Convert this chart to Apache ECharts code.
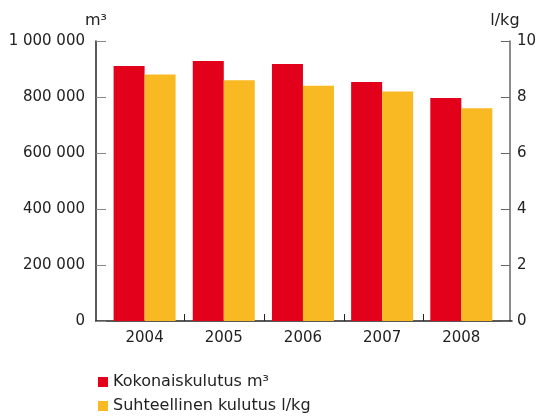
<!DOCTYPE html>
<html>
<head>
<meta charset="utf-8">
<script src="https://cdn.jsdelivr.net/npm/echarts@6/dist/echarts.min.js"></script>
<style>
html,body{margin:0;padding:0;background:#fff;}
#chart{width:539px;height:420px;}
</style>
</head>
<body>
<div id="chart"></div>
<script>
// ---- data ----
const years = ['2004', '2005', '2006', '2007', '2008'];
const totalM3 = [911000, 929000, 918000, 854000, 796000];
const relativeLkg = [8.8, 8.6, 8.4, 8.2, 7.6];
const seriesNames = ['Kokonaiskulutus m³', 'Suhteellinen kulutus l/kg'];
const leftTicks = [0, 200000, 400000, 600000, 800000, 1000000];
const rightTicks = [0, 2, 4, 6, 8, 10];
const boundaryTicks = [1, 2, 3, 4];

// ---- layout ----
const W = 539;
const plotL = 105, plotR = 36, axisPad = 9;
const bandW = (W - plotL - plotR) / years.length;
const padUnits = axisPad / bandW;
const FONT = 'DejaVu Sans';
const fmt = v => String(v).replace(/\B(?=(\d{3})+(?!\d))/g, ' ');

const chart = echarts.init(document.getElementById('chart'), null, {renderer: 'canvas'});
chart.setOption({
  animation: false,
  textStyle: {fontFamily: FONT},
  grid: [
    {left: plotL, right: plotR, top: 41, bottom: 99, containLabel: false},
    {left: plotL - axisPad, right: plotR - axisPad, top: 41, bottom: 99, containLabel: false}
  ],
  legend: {
    orient: 'vertical',
    left: 98, top: 374, padding: 0, height: 46,
    icon: 'rect', itemWidth: 10, itemHeight: 10, itemGap: 8,
    textStyle: {fontFamily: FONT, fontSize: 16, lineHeight: 16, color: '#222'},
    data: seriesNames
  },
  xAxis: [
    {
      type: 'category', gridIndex: 0, data: years,
      axisLine: {show: false}, axisTick: {show: false},
      axisLabel: {fontFamily: FONT, fontSize: 15, color: '#222', margin: 10}
    },
    {
      type: 'value', gridIndex: 1,
      min: -padUnits, max: years.length + padUnits,
      axisLine: {show: true, lineStyle: {color: '#222', width: 1.5}},
      axisTick: {show: true, inside: true, length: 7, customValues: boundaryTicks, lineStyle: {color: '#222'}},
      axisLabel: {show: false},
      splitLine: {show: false}
    }
  ],
  yAxis: [
    {
      type: 'value', gridIndex: 0, position: 'left', offset: axisPad,
      min: 0, max: 1000000, interval: 200000,
      name: 'm³', nameLocation: 'end', nameGap: 12,
      nameTextStyle: {fontFamily: FONT, fontSize: 16, color: '#222'},
      axisLine: {show: true, lineStyle: {color: '#222', width: 1.5}},
      axisTick: {show: true, inside: true, length: 10, lineStyle: {color: '#888'}},
      axisLabel: {fontFamily: FONT, fontSize: 15, color: '#222', margin: 11, formatter: fmt, customValues: leftTicks},
      splitLine: {show: false}
    },
    {
      type: 'value', gridIndex: 0, position: 'right', offset: axisPad,
      min: 0, max: 10, interval: 2,
      name: 'l/kg', nameLocation: 'end', nameGap: 12,
      nameTextStyle: {fontFamily: FONT, fontSize: 16, color: '#222', padding: [0, 10, 0, 0]},
      axisLine: {show: true, lineStyle: {color: '#666', width: 1.5}},
      axisTick: {show: true, inside: true, length: 9, lineStyle: {color: '#666'}},
      axisLabel: {fontFamily: FONT, fontSize: 15, color: '#222', margin: 7, customValues: rightTicks},
      splitLine: {show: false}
    },
    {
      type: 'value', gridIndex: 1, show: false, min: 0, max: 1
    }
  ],
  series: [
    {
      name: seriesNames[0], type: 'bar', xAxisIndex: 0, yAxisIndex: 0,
      data: totalM3, barWidth: 31, barGap: '0%',
      itemStyle: {color: '#E2001A'}
    },
    {
      name: seriesNames[1], type: 'bar', xAxisIndex: 0, yAxisIndex: 1,
      data: relativeLkg, barWidth: 31, barGap: '0%',
      itemStyle: {color: '#F9B922'}
    }
  ]
});
</script>
</body>
</html>
